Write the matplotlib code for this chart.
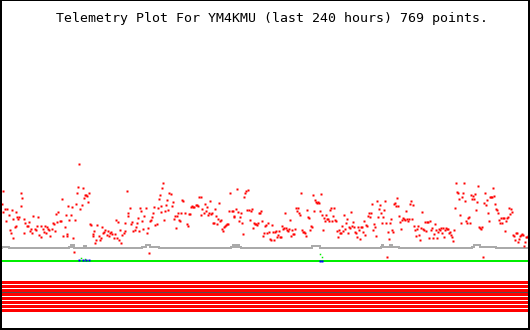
import matplotlib
matplotlib.use("Agg")
import matplotlib.pyplot as plt

title = "Telemetry Plot For YM4KMU (last 240 hours) 769 points."

# red telemetry samples (x position, value in plot units; larger y = lower on chart)
red_x = [1.7,3.0,5.0,2.7,7.3,8.7,6.3,11.7,12.7,9.7,10.7,13.3,14.7,15.7,17.0,18.3,19.3,16.0,20.7,21.3,22.3,23.7,24.3,25.3,26.7,28.0,29.3,30.3,31.3,32.3,33.3,34.7,36.0,37.0,38.3,39.3,40.7,41.3,42.7,44.0,45.0,46.0,47.0,48.3,49.3,50.3,51.7,53.0,54.0,55.0,56.3,57.3,58.3,59.7,61.0,62.3,63.3,64.7,65.7,66.7,67.3,68.3,69.3,70.7,72.0,73.0,74.0,75.3,76.3,77.3,78.3,79.3,80.3,81.7,82.7,84.0,85.0,86.0,87.3,88.3,89.3,90.3,91.3,92.7,93.3,94.3,95.3,96.3,97.3,98.7,100.0,101.0,102.0,103.3,104.3,105.3,106.7,107.7,108.7,110.0,111.0,112.3,113.7,114.7,115.7,116.7,118.0,119.3,120.3,121.3,122.3,123.7,124.7,125.3,126.7,127.7,128.3,129.7,131.0,132.0,133.3,134.7,135.7,137.0,138.0,139.3,140.3,141.3,142.3,143.3,144.3,145.7,146.7,147.7,148.7,149.7,150.7,151.7,152.7,154.0,155.3,156.7,157.7,158.7,159.7,160.7,161.3,162.3,163.3,164.3,165.3,166.3,167.3,168.3,169.3,170.7,171.7,172.7,173.7,174.7,
         175.7,176.7,177.7,178.7,180.3,181.3,182.3,183.3,184.7,186.7,187.7,188.7,189.7,191.0,192.0,193.3,194.3,195.7,196.7,198.0,199.3,200.7,201.3,202.3,203.7,204.7,205.7,206.7,207.7,209.0,210.3,211.0,212.3,213.3,214.0,215.0,216.3,217.3,218.3,219.3,220.3,221.3,222.3,223.3,224.3,225.3,226.3,227.3,228.3,229.3,230.3,231.7,232.7,233.7,234.3,235.7,237.0,238.3,239.3,240.3,241.3,242.3,243.3,244.3,245.3,246.3,247.3,248.3,249.3,250.3,251.3,252.3,253.3,254.3,255.3,256.3,257.3,258.3,259.3,260.3,261.3,262.3,263.3,264.3,265.3,266.3,267.3,268.3,269.3,270.3,271.3,272.3,273.3,274.3,275.3,276.3,277.3,278.3,279.3,280.3,281.3,282.3,283.3,284.3,285.3,286.3,287.3,288.3,289.3,290.3,291.3,292.3,293.3,294.3,295.3,296.3,297.3,298.3,299.3,300.3,301.3,302.3,303.3,304.3,305.3,306.3,307.3,308.3,309.3,310.3,311.3,312.3,313.3,314.3,315.3,316.3,317.3,318.3,319.3,320.3,321.3,322.3,323.3,324.3,325.3,326.3,327.3,328.3,329.3,330.3,331.3,332.3,333.3,334.3,335.3,336.3,337.3,338.3,339.3,340.3,341.3,342.3,343.3,344.3,345.3,346.3,347.3,348.3,349.3,350.3,351.3,352.3,353.3,354.3,
         355.3,356.3,357.3,358.3,359.3,360.3,361.3,362.3,363.3,364.3,365.3,366.3,367.3,368.3,369.3,370.3,371.3,372.3,373.3,374.3,375.3,376.3,377.3,378.3,379.3,380.3,381.3,382.3,383.3,384.3,385.3,386.3,387.3,388.3,389.3,390.3,391.3,392.3,393.3,394.3,395.3,396.3,397.3,398.3,399.3,400.3,401.3,402.3,403.3,404.3,405.3,406.3,407.3,408.3,409.3,410.3,411.3,412.3,413.3,414.3,415.3,416.3,417.3,418.3,419.3,420.3,421.3,422.3,423.3,424.3,425.3,426.3,427.3,428.3,429.3,430.3,431.3,432.3,433.3,434.3,435.3,436.3,437.3,438.3,439.3,440.3,441.3,442.3,443.3,444.3,445.3,446.3,447.3,448.3,449.3,450.3,451.3,452.3,453.3,454.3,455.3,456.3,457.3,458.3,459.3,460.3,461.3,462.3,463.3,464.3,465.3,466.3,467.3,468.3,469.3,470.3,471.3,472.3,473.3,474.3,475.3,476.3,477.3,478.3,479.3,480.3,481.3,482.3,483.3,484.3,485.3,486.3,487.3,488.3,489.3,490.3,491.3,492.3,493.3,494.3,495.3,496.3,497.3,498.3,499.3,500.3,501.3,502.3,503.3,504.3,505.3,506.3,507.3,508.3,509.3,510.3,511.3,512.3,513.3,514.3,515.3,516.3,517.3,518.3,519.3,520.3,521.3,522.3,523.3,524.3,525.3,526.3,527.3,528.3]
red_y = [204.3,191.0,208.7,212.0,208.7,215.0,221.0,210.0,219.3,230.0,232.7,238.0,226.7,212.0,216.7,218.7,216.7,226.0,206.0,193.3,197.7,232.7,218.7,222.7,226.0,226.0,221.7,231.0,229.3,232.7,216.0,228.7,230.0,226.0,216.7,235.0,225.7,236.7,229.3,231.7,226.0,233.3,227.3,229.3,230.0,236.0,229.3,222.7,224.0,231.3,214.3,222.0,212.0,220.7,221.0,199.0,236.0,226.7,215.3,234.0,236.0,206.0,220.0,214.7,206.7,238.0,252.0,220.0,204.0,192.7,186.7,164.0,208.7,204.7,188.3,197.7,195.3,194.7,196.0,201.7,193.3,224.0,224.7,236.0,234.3,231.0,243.3,240.0,224.7,235.7,240.0,237.7,227.0,233.3,231.7,230.3,235.0,230.7,236.0,232.7,231.7,234.0,238.0,234.3,220.0,238.0,221.7,240.0,230.0,243.3,235.0,232.7,230.7,222.7,190.7,216.0,212.7,207.7,224.3,222.0,230.7,230.0,226.7,222.7,218.0,230.7,208.0,210.7,220.7,228.7,215.7,208.0,233.3,228.0,252.7,220.7,220.0,216.7,212.7,207.3,225.3,224.0,208.0,199.3,195.0,212.0,206.0,187.7,182.7,220.0,211.0,204.7,200.3,210.0,193.0,194.3,205.7,201.7,219.3,216.0,
         227.7,216.0,212.7,220.0,220.7,212.7,200.0,201.0,212.7,224.0,226.0,214.0,214.0,207.3,206.0,206.7,207.3,205.0,205.0,206.0,197.3,215.3,197.0,209.3,213.0,204.0,210.7,206.7,215.0,213.3,200.7,214.3,212.7,222.7,222.7,208.7,216.0,224.0,219.3,202.7,220.7,219.7,228.7,230.7,227.3,226.3,225.3,224.0,224.0,211.0,192.7,211.0,211.3,216.0,216.7,209.0,188.7,212.0,221.0,216.7,212.7,222.7,234.0,196.7,193.3,191.0,210.0,190.0,210.0,220.0,210.7,209.0,228.0,222.7,224.0,224.0,225.0,222.7,213.3,212.7,211.3,221.0,236.0,233.3,225.7,224.7,233.0,222.7,232.0,239.3,240.0,225.0,232.0,240.0,232.0,231.3,237.3,234.7,231.3,236.7,236.7,226.0,229.3,228.3,212.7,228.0,230.0,231.0,229.3,220.0,236.0,230.0,234.0,233.7,228.7,208.0,211.0,208.0,213.3,214.7,192.7,230.0,231.7,231.7,232.7,236.0,210.0,216.7,218.3,230.0,226.0,227.3,194.7,210.7,200.0,202.3,202.7,201.7,202.7,210.7,193.7,215.3,230.0,218.0,220.7,215.3,219.3,218.7,220.7,210.0,208.0,220.7,216.0,207.7,220.0,220.7,230.7,236.7,230.0,232.7,232.7,226.0,230.7,215.3,228.7,223.3,218.7,232.7,226.7,227.7,212.0,226.0,222.0,226.7,
         232.0,233.3,237.3,227.3,230.0,239.0,227.3,226.7,231.7,220.7,234.7,225.3,226.0,216.0,212.7,216.7,212.7,204.0,230.0,224.0,227.3,235.7,201.0,216.7,209.3,204.7,212.7,222.7,216.7,210.0,201.0,222.7,257.3,231.7,239.0,222.7,219.3,230.0,231.7,204.0,202.7,205.7,197.7,206.0,216.0,222.3,229.3,220.0,218.0,219.3,220.0,210.7,219.0,220.7,219.3,203.7,201.3,219.3,204.7,226.0,230.0,236.0,228.7,226.0,234.7,240.0,228.0,212.0,228.7,230.0,221.7,230.7,221.7,221.7,238.3,220.7,230.0,228.3,238.3,234.0,224.0,230.0,238.3,231.7,229.3,230.0,228.0,233.3,228.0,237.3,230.0,227.7,229.3,229.0,233.3,231.7,234.7,237.3,240.7,230.0,208.0,182.7,191.7,192.7,199.0,214.7,222.7,196.7,192.7,182.7,200.7,221.3,222.7,218.3,216.7,223.3,195.0,199.3,196.0,199.3,194.0,210.0,201.7,185.7,226.7,228.0,228.7,227.3,256.7,203.3,192.7,204.7,200.0,212.7,220.7,196.7,197.3,196.7,188.0,196.0,204.0,208.7,210.0,212.7,220.0,222.7,218.3,222.7,218.3,218.0,230.7,220.7,218.0,216.7,208.0,214.0,209.3,212.0,234.7,236.0,240.0,232.7,233.3,241.7,239.0,236.0,235.3,234.0,235.0,246.0,242.3,236.7,237.3,236.0]

# gray channel (step series)
gray_x = [0, 2, 9, 69, 71, 72, 73, 74, 84, 86, 142, 146, 150, 159, 231, 233, 234.5, 237, 238.5, 241, 312, 320, 381, 382, 383, 390, 391.5, 399, 472, 474, 480, 496, 529]
gray_y = [247.7, 246.7, 247.7, 246.7, 245.3, 246.7, 245.3, 247.7, 246.3, 247.7, 246.7, 245.3, 246.7, 247.7, 246.7, 245.3, 246.7, 245.3, 246.7, 247.7, 246.3, 247.7, 246.7, 245.3, 246.7, 245.3, 246.7, 247.7, 246.7, 245.3, 246.7, 247.7, 247.7]

# green channel (constant) and its occasional deviations
green_level = 260.7
green_dev_x = [81.3, 85.0, 320.3, 322.3]
green_dev_y = [258.0, 258.7, 254.0, 256.7]

# blue channel samples
blue_x = [79.0, 83.0, 86.3, 89.3, 320.3, 322.3]
blue_y = [259.7, 260.0, 259.7, 259.7, 261.0, 261.0]

# red digital channels (bands) and separator
band_levels = [281.5, 285.5, 289.5, 293.5, 297.5, 301.5, 305.5, 309.5]
separator_level = 291.5

fig = plt.figure(figsize=(5.3, 3.3), dpi=100)
ax = fig.add_axes([0, 0, 1, 1])
ax.set_xlim(0, 530)
ax.set_ylim(330, 0)
ax.set_xticks([])
ax.set_yticks([])

px = 0.72  # points per pixel

for lvl in band_levels:
    ax.plot([2, 528], [lvl, lvl], color="#ff0000", lw=3 * px, solid_capstyle="butt", antialiased=False)
ax.plot([2, 528], [separator_level, separator_level], color="#505050", lw=1 * px, solid_capstyle="butt", antialiased=False)

ax.plot([2, 528], [green_level, green_level], color="#00ee00", lw=2 * px, solid_capstyle="butt", antialiased=False)
ax.plot(green_dev_x, green_dev_y, ls="none", marker="s", ms=1.5 * px, mfc="#00ee00", mec="none", antialiased=False)
ax.plot(blue_x, blue_y, ls="none", marker="s", ms=2.5 * px, mfc="#0000ff", mec="none", antialiased=False)

ax.plot(gray_x, gray_y, drawstyle="steps-post", color="#aaaaaa", lw=2 * px, antialiased=False)

rect = [(-0.3, -0.5), (0.3, -0.5), (0.3, 0.5), (-0.3, 0.5), (-0.3, -0.5)]
ax.plot(red_x, red_y, ls="none", marker=rect, ms=2.4 * px, mfc="#ff0000", mec="none", antialiased=False)

ax.text(271.5, 22, title, family="DejaVu Sans Mono", fontsize=9.5, ha="center", va="baseline", color="black")

for side, w in [("left", 4), ("right", 4), ("bottom", 4), ("top", 2)]:
    ax.spines[side].set_linewidth(w * px)
    ax.spines[side].set_color("black")

fig.savefig("out.png", dpi=100, facecolor="white")
